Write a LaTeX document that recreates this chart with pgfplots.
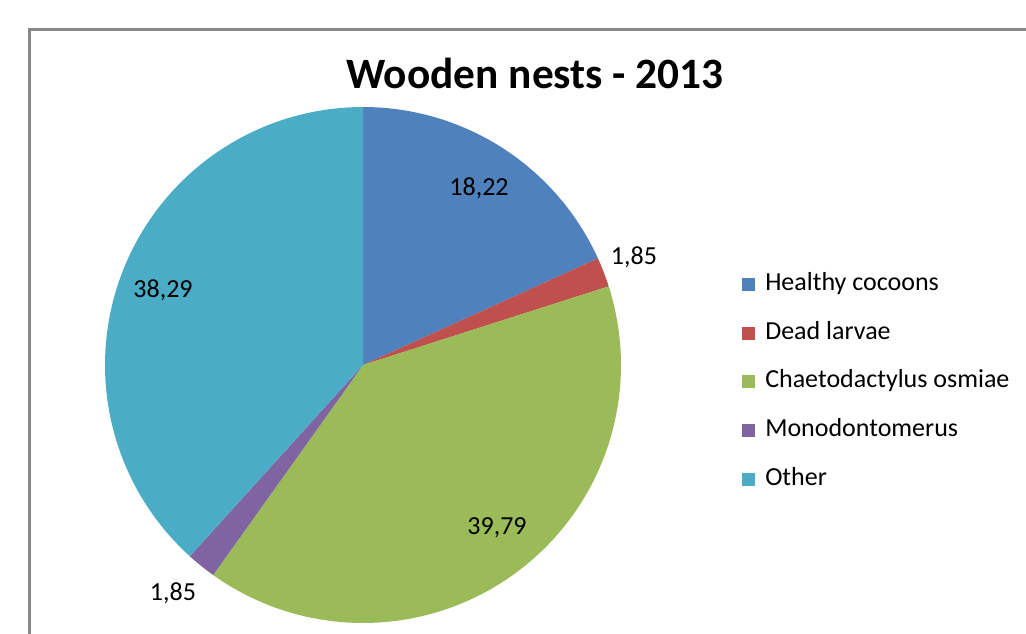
\documentclass[border=0pt]{standalone}
\usepackage{pgfplots}
\pgfplotsset{compat=1.18}
\usepackage{fontspec}
\setmainfont{Carlito}
\definecolor{cBlue}{HTML}{4F81BD}
\definecolor{cRed}{HTML}{C0504D}
\definecolor{cGreen}{HTML}{9BBB59}
\definecolor{cPurple}{HTML}{8064A2}
\definecolor{cTeal}{HTML}{4BACC6}
\definecolor{cFrame}{HTML}{878787}
% values (percent)
\def\vA{18.22}
\def\vB{1.85}
\def\vC{39.79}
\def\vD{1.85}
\def\vE{38.29}
\pgfmathsetmacro\eA{3.6*\vA}
\pgfmathsetmacro\eB{\eA+3.6*\vB}
\pgfmathsetmacro\eC{\eB+3.6*\vC}
\pgfmathsetmacro\eD{\eC+3.6*\vD}
\pgfmathsetmacro\eE{\eD+3.6*\vE}
\begin{document}
\begin{tikzpicture}
\begin{axis}[
  scale only axis, width=769.5pt, height=474.75pt,
  xmin=0, xmax=1026, ymin=0, ymax=633, y dir=reverse,
  hide axis, clip=false,
  samples=90,
  legend image code/.code={\fill[#1] (0pt,-4.9pt) rectangle (9.75pt,4.9pt);},
  legend cell align=left,
  legend style={at={(axis cs:742,273)}, anchor=north west, draw=none, fill=none,
    inner sep=0pt, row sep=19.5pt,
    /tikz/every odd column/.append style={column sep=7.5pt},
    nodes={inner sep=0pt, text height=13pt, text depth=4pt, font=\fontsize{19.5}{22}\selectfont}},
]
\draw[cFrame, line width=2.25pt] (axis cs:1030,29.5) -- (axis cs:29.5,29.5) -- (axis cs:29.5,640);
\addplot[fill=cBlue, draw=none, domain=0:\eA, variable=\t] ({363+258*sin(\t)},{365-258*cos(\t)}) -- (axis cs:363,365) -- cycle;
\addlegendentry{Healthy cocoons}
\addplot[fill=cRed, draw=none, domain=\eA:\eB, variable=\t] ({363+258*sin(\t)},{365-258*cos(\t)}) -- (axis cs:363,365) -- cycle;
\addlegendentry{Dead larvae}
\addplot[fill=cGreen, draw=none, domain=\eB:\eC, variable=\t] ({363+258*sin(\t)},{365-258*cos(\t)}) -- (axis cs:363,365) -- cycle;
\addlegendentry{Chaetodactylus osmiae}
\addplot[fill=cPurple, draw=none, domain=\eC:\eD, variable=\t] ({363+258*sin(\t)},{365-258*cos(\t)}) -- (axis cs:363,365) -- cycle;
\addlegendentry{Monodontomerus}
\addplot[fill=cTeal, draw=none, domain=\eD:\eE, variable=\t] ({363+258*sin(\t)},{365-258*cos(\t)}) -- (axis cs:363,365) -- cycle;
\addlegendentry{Other}
\node[font=\fontsize{32.5}{38}\selectfont\bfseries] at (axis cs:535,73) {Wooden nests - 2013};
\node[font=\fontsize{19.5}{22}\selectfont] at (axis cs:479,188) {18,22};
\node[font=\fontsize{19.5}{22}\selectfont] at (axis cs:634,257) {1,85};
\node[font=\fontsize{19.5}{22}\selectfont] at (axis cs:497,528) {39,79};
\node[font=\fontsize{19.5}{22}\selectfont] at (axis cs:173,593) {1,85};
\node[font=\fontsize{19.5}{22}\selectfont] at (axis cs:163,290) {38,29};
\end{axis}
\pgfresetboundingbox
\path (0,0) rectangle (769.5pt,474.75pt);
\end{tikzpicture}
\end{document}
